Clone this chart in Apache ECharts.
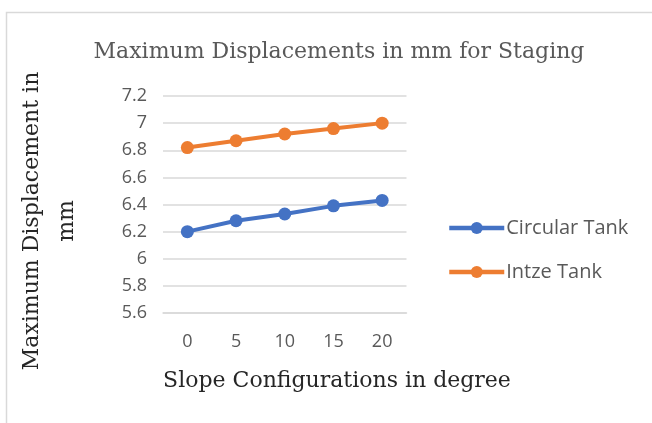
<!DOCTYPE html>
<html>
<head>
<meta charset="utf-8">
<title>Maximum Displacements in mm for Staging</title>
<script src="https://cdn.jsdelivr.net/npm/echarts@6/dist/echarts.min.js"></script>
<style>
  html, body { margin: 0; padding: 0; background: #fff; }
  #chart { width: 652px; height: 423px; }
</style>
</head>
<body>
<div id="chart"></div>
<script>
// slope angles (degree) on the x axis
const slopes = ['0', '5', '10', '15', '20']
// max displacement values (mm)
const circularTank = [6.20, 6.28, 6.33, 6.39, 6.43]
const intzeTank = [6.82, 6.87, 6.92, 6.96, 7.00]
const seriesNames = ['Circular Tank', 'Intze Tank']

const grey = '#595959'
const serif = 'DejaVu Serif'
const sans = 'Open Sans'

const myChart = echarts.init(document.getElementById('chart'))

const option = {
  backgroundColor: '#fff',
  animation: false,
  color: ['#4472C4', '#ED7D31'],
  title: {
    text: 'Maximum Displacements in mm for Staging',
    left: 334,
    top: 36,
    textAlign: 'center',
    textStyle: {
      fontFamily: serif,
      fontWeight: 'normal',
      fontSize: 22,
      color: grey
    }
  },
  legend: {
    orient: 'vertical',
    left: 447,
    top: 218,
    padding: 0,
    itemWidth: 55,
    itemHeight: 15,
    itemGap: 24,
    data: seriesNames,
    lineStyle: { width: 4.5 },
    textStyle: {
      fontFamily: sans,
      fontSize: 20,
      color: grey,
      padding: [0, 0, 0, -3]
    }
  },
  grid: {
    left: 163,
    right: 245.5,
    top: 96,
    bottom: 110
  },
  xAxis: {
    type: 'category',
    data: slopes,
    boundaryGap: true,
    axisLine: { show: true, lineStyle: { color: '#D9D9D9', width: 1.5 } },
    axisTick: { show: false },
    axisLabel: {
      margin: 20,
      fontFamily: sans,
      fontSize: 18,
      color: grey
    }
  },
  yAxis: {
    type: 'value',
    min: 5.6,
    max: 7.2,
    interval: 0.2,
    axisLine: { show: false },
    axisTick: { show: false },
    axisLabel: {
      margin: 16,
      fontFamily: sans,
      fontSize: 18,
      color: grey,
      formatter: v => String(Math.round(v * 10) / 10)
    },
    splitLine: { lineStyle: { color: '#D9D9D9', width: 1.5 } }
  },
  graphic: [
    {
      // outer chart frame
      type: 'rect',
      shape: { x: 6.5, y: 12.5, width: 700, height: 500 },
      style: { fill: 'none', stroke: '#D9D9D9', lineWidth: 1.5 },
      silent: true
    },
    {
      // y axis title, two lines like the original
      type: 'text',
      x: 50,
      y: 221,
      rotation: Math.PI / 2,
      style: {
        text: 'Maximum Displacement in\nmm',
        align: 'center',
        verticalAlign: 'middle',
        lineHeight: 35,
        fontFamily: serif,
        fontSize: 22,
        fill: '#262626'
      }
    },
    {
      // x axis title, centred on the chart rather than the plot
      type: 'text',
      x: 337,
      y: 381,
      style: {
        text: 'Slope Configurations in degree',
        align: 'center',
        verticalAlign: 'middle',
        fontFamily: serif,
        fontSize: 22,
        fill: '#262626'
      }
    }
  ],
  series: [
    {
      name: seriesNames[0],
      type: 'line',
      data: circularTank,
      symbol: 'circle',
      symbolSize: 13,
      lineStyle: { width: 4 }
    },
    {
      name: seriesNames[1],
      type: 'line',
      data: intzeTank,
      symbol: 'circle',
      symbolSize: 13,
      lineStyle: { width: 4 }
    }
  ]
}

myChart.setOption(option)
window.onresize = myChart.resize
</script>
</body>
</html>
